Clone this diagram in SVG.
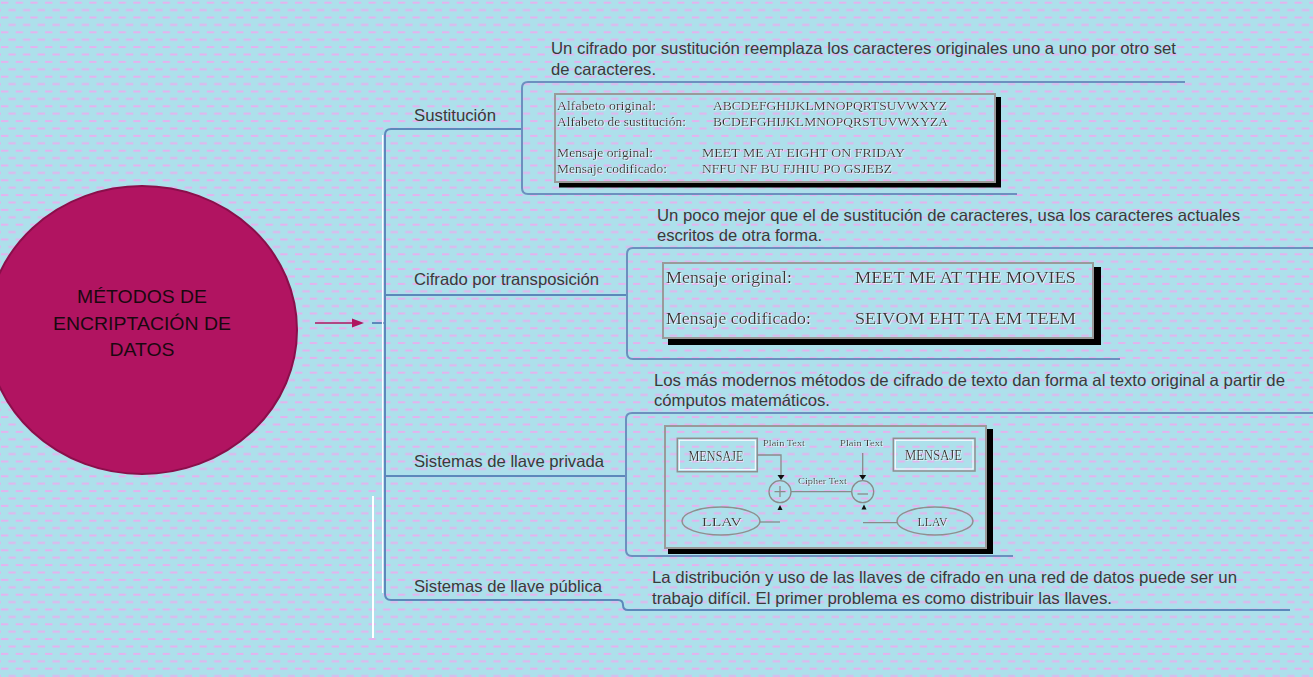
<svg xmlns="http://www.w3.org/2000/svg" width="1313" height="677" viewBox="0 0 1313 677">
<defs>
<pattern id="dash" x="1" y="1.7" width="14.7" height="14.8" patternUnits="userSpaceOnUse">
<rect x="0" y="0" width="7.3" height="2" fill="#e4b3ee"/>
<rect x="7.35" y="7.4" width="7.3" height="2" fill="#e4b3ee"/>
</pattern>
<filter id="halo" x="-5%" y="-20%" width="110%" height="140%">
<feDropShadow dx="0.7" dy="0.7" stdDeviation="0" flood-color="#ffffff" flood-opacity="0.9"/>
</filter>
<style>
.lbl{font-family:"Liberation Sans",Arial,sans-serif;font-size:16.5px;fill:#3a3a3a}
.desc{font-family:"Liberation Sans",Arial,sans-serif;font-size:16.5px;fill:#3a3a3a}
.conn{fill:none;stroke:#5c88bb;stroke-width:2}
.brk{fill:none;stroke:#6c90bf;stroke-width:2}
.ser{font-family:"Liberation Serif","Times New Roman",serif;fill:#353535;filter:url(#halo)}
.frame{fill:none;stroke:#9a9a9a;stroke-width:2}
.shadow{fill:#000}
.gl{fill:none;stroke:#8a8a8a;stroke-width:1.3}
.tri{fill:#111}
</style>
</defs>
<rect x="0" y="0" width="1313" height="677" fill="#ade0eb"/>
<rect x="0" y="0" width="1313" height="677" fill="url(#dash)"/>

<g id="connectors">
<path class="conn" d="M522 129 L391 129 Q385 129 385 135 L385 594 Q385 600 391 600 L618 600 Q623 600 623 605 Q623 610 628 610 L1290 610"/>
<path class="conn" d="M385 295 L627 295"/>
<path class="conn" d="M385 476 L626 476"/>
<path class="conn" d="M372 323 L385 323" stroke="#7aa0c8"/>
<line x1="382.6" y1="135" x2="382.6" y2="593" stroke="#ffffff" stroke-width="1.3"/>
<line x1="373" y1="496" x2="373" y2="638" stroke="#ffffff" stroke-width="2"/>
<path class="brk" d="M1185 82 L528 82 Q522 82 522 88 L522 188 Q522 194 528 194 L1017 194"/>
<path class="brk" d="M1313 248 L633 248 Q627 248 627 254 L627 353 Q627 359 633 359 L1120 359"/>
<path class="brk" d="M1313 413 L632 413 Q626 413 626 419 L626 550 Q626 556 632 556 L1013 556"/>
<line x1="315" y1="323" x2="355" y2="323" stroke="#b01461" stroke-width="1.6"/>
<polygon points="364,323 352,318.5 352,327.5" fill="#b01461"/>
</g>

<g id="center">
<ellipse cx="142" cy="330" rx="155" ry="144" fill="#b11461" stroke="#8a0f4b" stroke-width="2"/>
<g font-family="'Liberation Sans',Arial,sans-serif" font-size="19" fill="#1a0810" text-anchor="middle">
<text x="142" y="303" textLength="130" lengthAdjust="spacingAndGlyphs">MÉTODOS DE</text>
<text x="142" y="330" textLength="178" lengthAdjust="spacingAndGlyphs">ENCRIPTACIÓN DE</text>
<text x="142" y="356" textLength="65" lengthAdjust="spacingAndGlyphs">DATOS</text>
</g>
</g>

<g id="sustitucion">
<text class="lbl" x="414" y="121" textLength="82" lengthAdjust="spacingAndGlyphs">Sustitución</text>
<text class="desc" x="551" y="54" textLength="625" lengthAdjust="spacingAndGlyphs">Un cifrado por sustitución reemplaza los caracteres originales uno a uno por otro set</text>
<text class="desc" x="551" y="75" textLength="105" lengthAdjust="spacingAndGlyphs">de caracteres.</text>
<rect class="shadow" x="995" y="97" width="6" height="90"/>
<rect class="shadow" x="559" y="182" width="442" height="5.5"/>
<rect class="frame" x="555" y="94" width="440" height="88"/>
<g class="ser" font-size="12">
<text x="557" y="110" textLength="99" lengthAdjust="spacingAndGlyphs">Alfabeto original:</text>
<text x="713" y="110" textLength="234" lengthAdjust="spacingAndGlyphs">ABCDEFGHIJKLMNOPQRTSUVWXYZ</text>
<text x="557" y="125.5" textLength="129" lengthAdjust="spacingAndGlyphs">Alfabeto de sustitución:</text>
<text x="713" y="125.5" textLength="235" lengthAdjust="spacingAndGlyphs">BCDEFGHIJKLMNOPQRSTUVWXYZA</text>
<text x="557" y="157" textLength="96" lengthAdjust="spacingAndGlyphs">Mensaje original:</text>
<text x="702" y="157" textLength="203" lengthAdjust="spacingAndGlyphs">MEET ME AT EIGHT ON FRIDAY</text>
<text x="557" y="172.5" textLength="110" lengthAdjust="spacingAndGlyphs">Mensaje codificado:</text>
<text x="702" y="172.5" textLength="190" lengthAdjust="spacingAndGlyphs">NFFU NF BU FJHIU PO GSJEBZ</text>
</g>
</g>

<g id="transposicion">
<text class="lbl" x="414" y="285" textLength="185" lengthAdjust="spacingAndGlyphs">Cifrado por transposición</text>
<text class="desc" x="657" y="220.5" textLength="583" lengthAdjust="spacingAndGlyphs">Un poco mejor que el de sustitución de caracteres, usa los caracteres actuales</text>
<text class="desc" x="657" y="240.5" textLength="165" lengthAdjust="spacingAndGlyphs">escritos de otra forma.</text>
<rect class="shadow" x="1093" y="267" width="8" height="78"/>
<rect class="shadow" x="668" y="338" width="433" height="7"/>
<rect class="frame" x="663" y="263" width="430" height="75"/>
<g class="ser" font-size="17.5">
<text x="666" y="283" textLength="126" lengthAdjust="spacingAndGlyphs">Mensaje original:</text>
<text x="855" y="283" textLength="221" lengthAdjust="spacingAndGlyphs">MEET ME AT THE MOVIES</text>
<text x="666" y="324" textLength="145" lengthAdjust="spacingAndGlyphs">Mensaje codificado:</text>
<text x="855" y="324" textLength="221" lengthAdjust="spacingAndGlyphs">SEIVOM EHT TA EM TEEM</text>
</g>
</g>

<g id="privada">
<text class="lbl" x="414" y="467" textLength="190" lengthAdjust="spacingAndGlyphs">Sistemas de llave privada</text>
<text class="desc" x="654" y="386" textLength="631" lengthAdjust="spacingAndGlyphs">Los más modernos métodos de cifrado de texto dan forma al texto original a partir de</text>
<text class="desc" x="654" y="406" textLength="176" lengthAdjust="spacingAndGlyphs">cómputos matemáticos.</text>
<rect class="shadow" x="986" y="429" width="7" height="125"/>
<rect class="shadow" x="668" y="548" width="325" height="6"/>
<rect class="frame" x="665" y="426" width="321" height="122"/>
<rect x="677.3" y="438.3" width="80" height="33.4" fill="none" stroke="#8f8f8f" stroke-width="1.5"/>
<rect x="679.3" y="440.3" width="76" height="29.4" fill="none" stroke="#ffffff" stroke-width="1"/>
<rect x="893.3" y="438.3" width="81.7" height="32.7" fill="none" stroke="#8f8f8f" stroke-width="1.5"/>
<rect x="895.3" y="440.3" width="77.7" height="28.7" fill="none" stroke="#ffffff" stroke-width="1"/>
<path class="gl" d="M757 455 L781 455 L781 475"/>
<polygon class="tri" points="777.5,475 784.5,475 781,480"/>
<circle cx="780" cy="491.7" r="11" fill="none" stroke="#8a8a8a" stroke-width="1.3"/>
<path class="gl" d="M780 486 L780 497 M774.5 491.7 L785.5 491.7"/>
<polygon class="tri" points="777.5,510 782.5,510 780,505"/>
<path class="gl" d="M791 491.7 L851.7 491.7"/>
<path class="gl" d="M862.7 453 L862.7 475"/>
<polygon class="tri" points="859.2,475 866.2,475 862.7,480"/>
<circle cx="862.7" cy="491.7" r="11" fill="none" stroke="#8a8a8a" stroke-width="1.3"/>
<path class="gl" d="M857.5 494 L868 494"/>
<polygon class="tri" points="861.5,509.5 866.5,509.5 864,504.5"/>
<ellipse cx="721" cy="521" rx="39" ry="14" fill="none" stroke="#8f8f8f" stroke-width="1.5"/>
<ellipse cx="935" cy="521" rx="38" ry="14" fill="none" stroke="#8f8f8f" stroke-width="1.5"/>
<path class="gl" d="M760 522 L780 522"/>
<path class="gl" d="M863 522.7 L897 522.7"/>
<g class="ser">
<text x="716" y="460.5" font-size="14" text-anchor="middle" textLength="55" lengthAdjust="spacingAndGlyphs">MENSAJE</text>
<text x="933.5" y="460" font-size="14" text-anchor="middle" textLength="57" lengthAdjust="spacingAndGlyphs">MENSAJE</text>
<text x="763" y="446" font-size="9" textLength="42" lengthAdjust="spacingAndGlyphs">Plain Text</text>
<text x="840" y="446" font-size="9" textLength="43" lengthAdjust="spacingAndGlyphs">Plain Text</text>
<text x="798" y="484" font-size="9" textLength="49" lengthAdjust="spacingAndGlyphs">Cipher Text</text>
<text x="722" y="525.5" font-size="13" text-anchor="middle" textLength="40" lengthAdjust="spacingAndGlyphs">LLAV</text>
<text x="932.5" y="525.5" font-size="13" text-anchor="middle" textLength="30" lengthAdjust="spacingAndGlyphs">LLAV</text>
</g>
</g>

<g id="publica">
<text class="lbl" x="414" y="592" textLength="188" lengthAdjust="spacingAndGlyphs">Sistemas de llave pública</text>
<text class="desc" x="652" y="583" textLength="585" lengthAdjust="spacingAndGlyphs">La distribución y uso de las llaves de cifrado en una red de datos puede ser un</text>
<text class="desc" x="652" y="604" textLength="460" lengthAdjust="spacingAndGlyphs">trabajo difícil. El primer problema es como distribuir las llaves.</text>
</g>
</svg>
